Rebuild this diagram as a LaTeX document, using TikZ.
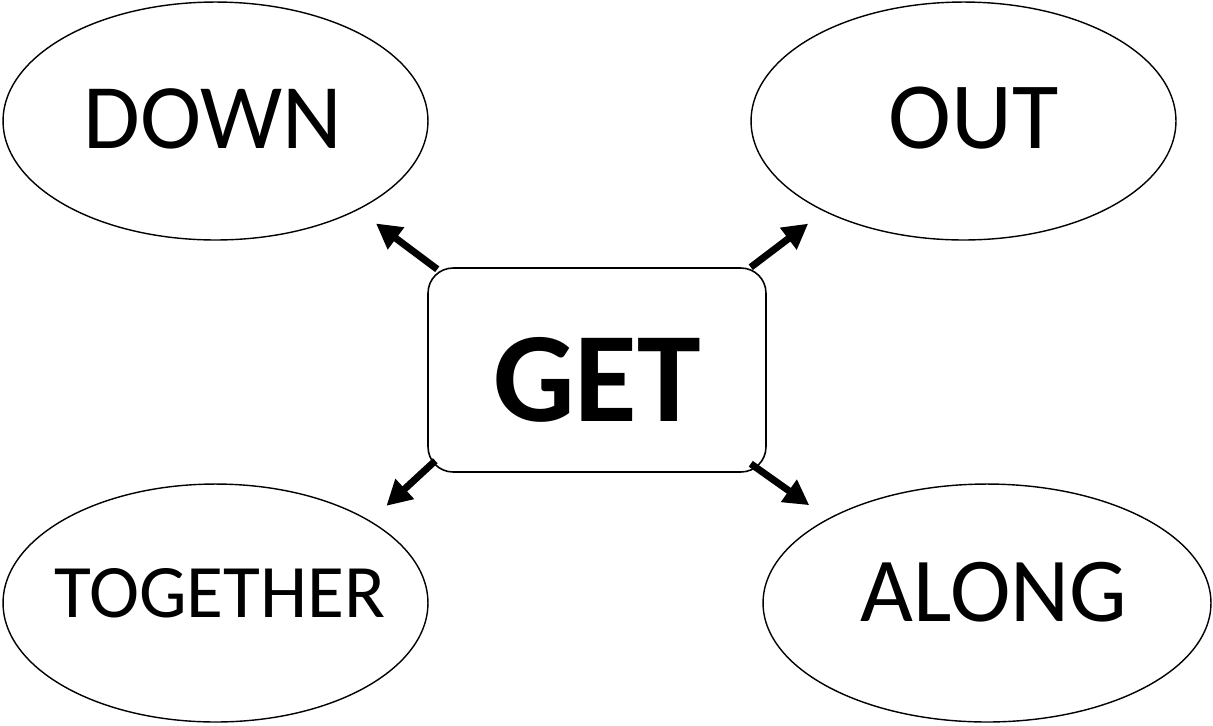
\documentclass[tikz,border=0pt]{standalone}
\usepackage{fontspec}
\setmainfont{Carlito}
\usepackage{tikz}
\usetikzlibrary{arrows.meta, positioning, shapes.geometric, calc}

% text of fixed size that does not widen its node: size, text, x shift (twice), y shift
\newcommand{\wordtext}[4]{\makebox[0pt]{\hspace*{#3}\raisebox{#4}[\height][\depth]{\fontsize{#1}{#1}\selectfont #2}}}

\begin{document}
\begin{tikzpicture}[x=0.02cm, y=-0.02cm,
    word/.style={ellipse, draw, line width=0.8pt, inner sep=0pt,
      minimum width=8.5cm, minimum height=4.76cm},
    hub/.style={draw, line width=0.9pt, rounded corners=0.5cm,
      minimum width=6.76cm, minimum height=4.08cm},
    arr/.style={line width=0.14cm, -{Triangle[length=0.5cm, width=0.52cm]}}]
  % canvas, same size as the reference
  \useasboundingbox (0,0) rectangle (1213,725);

  % centre box
  \node[hub] (get) at (597, 370) {\raisebox{-0.2cm}[\height][\depth]{\fontsize{73}{76}\selectfont\bfseries GET}};

  % the four particles round it
  \node[word] (down) at (215.5, 121) {\wordtext{52.5}{DOWN}{-0.12cm}{0.05cm}};
  \node[word] (out) at (963.5, 121) {\wordtext{54}{OUT}{0.4cm}{0.05cm}};
  \node[word] (together) at (215.5, 603) {\wordtext{43}{TOGETHER}{0.18cm}{0.2cm}};
  \node[word, minimum width=8.96cm] (along) at (987, 603) {\wordtext{52}{ALONG}{0.28cm}{0.22cm}};

  % arrows from the box out to each ellipse
  \draw[arr, shorten >=0.45cm] ([shift={(10,2)}]get.north west) -- (down.-32.3);
  \draw[arr, shorten >=0.40cm] ([shift={(-16,0)}]get.north east) -- (out.-147.6);
  \draw[arr, shorten >=0.44cm] ([shift={(8,-12)}]get.south west) -- (together.28.3);
  \draw[arr, shorten >=0.46cm] ([shift={(-16,-9)}]get.south east) -- (along.152.6);
\end{tikzpicture}
\end{document}
